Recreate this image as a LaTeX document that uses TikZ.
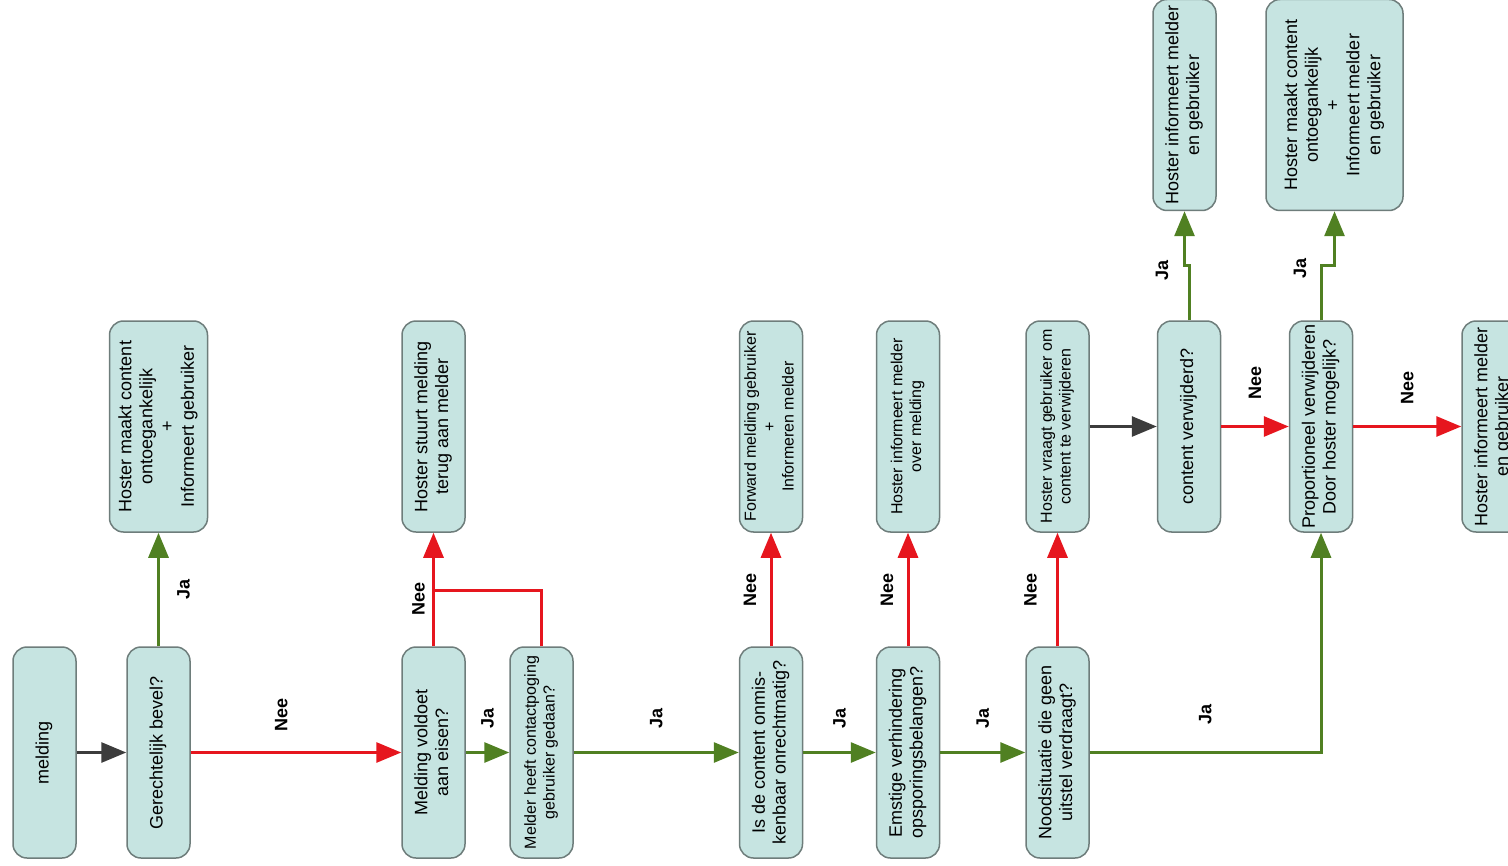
\documentclass[tikz,border=0pt]{standalone}
\usepackage{fontspec}
\setmainfont{Liberation Sans}
\usepackage{graphicx}
\usepackage{xcolor}
\usepackage{tikz}
\usetikzlibrary{arrows.meta}

\definecolor{boxfill}{RGB}{198,228,225}
\definecolor{boxline}{RGB}{110,125,123}
\definecolor{jagroen}{RGB}{80,128,34}
\definecolor{neerood}{RGB}{230,22,30}
\definecolor{pijlgrijs}{RGB}{60,60,60}

\newcommand{\vtxt}[1]{\rotatebox{90}{\begin{tabular}{@{}c@{}}#1\end{tabular}}}

\begin{document}
\begin{tikzpicture}[x=0.5pt,y=-0.5pt,
    box/.style={draw=boxline,fill=boxfill,line width=0.75pt,rounded corners=7pt,
      minimum width=31.5pt,minimum height=105.5pt,inner sep=1pt,
      font=\fontsize{9}{10.4}\selectfont},
    klein/.style={font=\fontsize{8}{9.4}\selectfont},
    pijl/.style={line width=1.5pt,-{Triangle[length=12.5pt,width=10pt]}},
    ja/.style={pijl,draw=jagroen},
    nee/.style={pijl,draw=neerood},
    door/.style={pijl,draw=pijlgrijs},
    lbl/.style={font=\fontsize{9}{10}\selectfont\bfseries,text=black,inner sep=0pt,rotate=90}]
  \useasboundingbox (0,0) rectangle (1508,866);

  \node[box] (melding) at (44.5,752.5) {\vtxt{melding}};
  \node[box] (bevel) at (158.5,752.5) {\vtxt{Gerechtelijk bevel?}};
  \node[box] (eisen) at (433.5,752.5) {\vtxt{Melding voldoet\\aan eisen?}};
  \node[box,klein] (contact) at (541.5,752.5) {\vtxt{Melder heeft contactpoging\\gebruiker gedaan?}};
  \node[box] (onrecht) at (771,752.5) {\vtxt{Is de content onmis-\\kenbaar onrechtmatig?}};
  \node[box] (opsporing) at (908,752.5) {\vtxt{Emstige verhindering\\opsporingsbelangen?}};
  \node[box] (nood) at (1057.5,752.5) {\vtxt{Noodsituatie die geen\\uitstel verdraagt?}};

  \node[box,minimum width=49pt] (ontoeg) at (158.5,426.5) {\vtxt{Hoster maakt content\\ontoegankelijk\\+\\Informeert gebruiker}};
  \node[box] (terug) at (433.5,426.5) {\vtxt{Hoster stuurt melding\\terug aan melder}};
  \node[box,klein] (forward) at (771,426.5) {\vtxt{Forward melding gebruiker\\+\\Informeren melder}};
  \node[box,klein] (infomelding) at (908,426.5) {\vtxt{Hoster informeert melder\\over melding}};
  \node[box,klein] (vraagt) at (1057.5,426.5) {\vtxt{Hoster vraagt gebruiker om\\content te verwijderen}};
  \node[box] (verwijderd) at (1189,426.5) {\vtxt{content verwijderd?}};
  \node[box] (prop) at (1321,426.5) {\vtxt{Proportioneel verwijderen\\Door hoster mogelijk?}};
  \node[box] (infobeide) at (1493.5,426.5) {\vtxt{Hoster informeert melder\\en gebruiker}};

  \node[box] (infobeide2) at (1184.5,105) {\vtxt{Hoster informeert melder\\en gebruiker}};
  \node[box,minimum width=68.5pt] (ontoeg2) at (1334.5,105) {\vtxt{Hoster maakt content\\ontoegankelijk\\+\\Informeert melder\\en gebruiker}};

  \coordinate (knik) at (433.5,590);

  \draw[door] (melding) -- (bevel);
  \draw[nee] (bevel) -- node[lbl,pos=0.43,xshift=19pt]{Nee} (eisen);
  \draw[ja] (bevel) -- node[lbl,yshift=-12.5pt]{Ja} (ontoeg);
  \draw[nee] (eisen) -- node[lbl,pos=0.42,yshift=7.5pt]{Nee} (terug);
  \draw[nee,-] (contact.north) |- (knik);
  \draw[ja] (eisen) -- node[lbl,xshift=17pt]{Ja} (contact);
  \draw[ja] (contact) -- node[lbl,xshift=17pt]{Ja} (onrecht);
  \draw[nee] (onrecht) -- node[lbl,yshift=10.5pt]{Nee} (forward);
  \draw[ja] (onrecht) -- node[lbl,xshift=17pt]{Ja} (opsporing);
  \draw[nee] (opsporing) -- node[lbl,yshift=10.5pt]{Nee} (infomelding);
  \draw[ja] (opsporing) -- node[lbl,xshift=17pt]{Ja} (nood);
  \draw[nee] (nood) -- node[lbl,yshift=13.5pt]{Nee} (vraagt);
  \draw[ja] (nood) -- node[lbl,xshift=19pt]{Ja} (prop |- nood) -- (prop);
  \draw[door] (vraagt) -- (verwijderd);
  \draw[nee] (verwijderd) -- node[lbl,xshift=22pt]{Nee} (prop);
  \draw[nee] (prop) -- node[lbl,xshift=19.5pt]{Nee} (infobeide);
  \draw[ja] (verwijderd.north) -- node[lbl,pos=0.9,yshift=13.5pt]{Ja} ++(0,-55) -| (infobeide2.south);
  \draw[ja] (prop.north) -- node[lbl,pos=0.95,yshift=10.5pt]{Ja} ++(0,-55) -| (ontoeg2.south);
\end{tikzpicture}
\end{document}
